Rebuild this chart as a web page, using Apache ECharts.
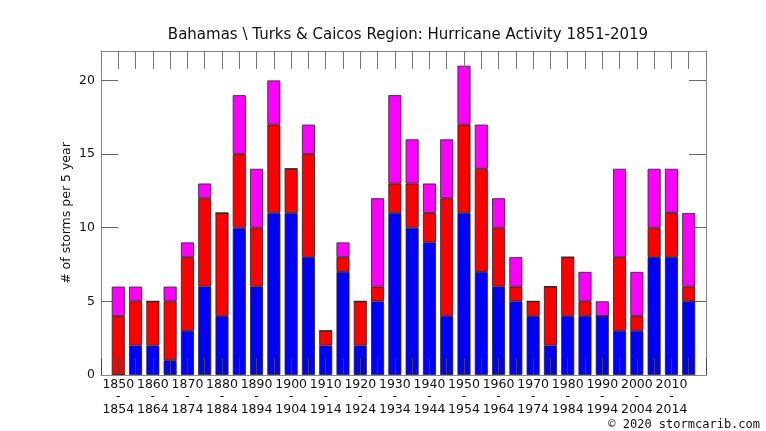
<!doctype html>
<html lang="en">
<head>
    <meta charset="UTF-8">
    <title>Bahamas \ Turks &amp; Caicos Region: Hurricane Activity</title>
    <style>
        *{
            margin:0;
            padding:0;
        }
        html,body {
            width:766px;
            height:431px;
            background:#fff;
        }
        #main{
            width:766px;
            height:431px;
        }
    </style>
</head>
<body>

<div id="main"></div>
<script src="https://cdn.jsdelivr.net/npm/echarts@6/dist/echarts.min.js"></script>
<script>

    // first year of each 5 year period
    var periodStart = [1850, 1855, 1860, 1865, 1870, 1875, 1880, 1885, 1890, 1895,
        1900, 1905, 1910, 1915, 1920, 1925, 1930, 1935, 1940, 1945,
        1950, 1955, 1960, 1965, 1970, 1975, 1980, 1985, 1990, 1995,
        2000, 2005, 2010, 2015];

    // stacked segments, bottom to top
    var blueCounts = [0, 2, 2, 1, 3, 6, 4, 10, 6, 11, 11, 8, 2, 7, 2, 5, 11, 10, 9, 4,
        11, 7, 6, 5, 4, 2, 4, 4, 4, 3, 3, 8, 8, 5];
    var redCounts = [4, 3, 3, 4, 5, 6, 7, 5, 4, 6, 3, 7, 1, 1, 3, 1, 2, 3, 2, 8,
        6, 7, 4, 1, 1, 4, 4, 1, 0, 5, 1, 2, 3, 1];
    var magentaCounts = [2, 1, 0, 1, 1, 1, 0, 4, 4, 3, 0, 2, 0, 1, 0, 6, 6, 3, 2, 4,
        4, 3, 2, 2, 0, 0, 0, 2, 1, 6, 3, 4, 3, 5];

    var yTicks = [0, 5, 10, 15, 20];

    var fontFamily = 'DejaVu Sans';
    var lineColor = '#888';

    // one empty 5-year slot on each side, like the original frame
    var categories = [String(periodStart[0] - 5)]
        .concat(periodStart.map(String))
        .concat([String(periodStart[periodStart.length - 1] + 5)]);

    function padded(values) {
        return [null].concat(values).concat([null]);
    }

    function periodLabel(value) {
        var v = +value;
        if (v < 1850 || v > 2010 || (v - 1850) % 10 !== 0) {
            return '';
        }
        return v + '\n-\n' + (v + 4);
    }

    function barSeries(name, values, color) {
        return {
            name: name,
            type: 'bar',
            stack: 'storms',
            barWidth: 13,
            data: padded(values),
            itemStyle: {
                color: color,
                borderColor: '#222',
                borderWidth: 0.8
            },
            emphasis: {disabled: true}
        };
    }

    var myChart = echarts.init(document.getElementById('main'));

    var xCommon = {
        type: 'category',
        data: categories,
        boundaryGap: false,
        z: 5,
        splitLine: {show: false},
        axisLine: {show: true, onZero: false, lineStyle: {color: lineColor, width: 1}},
        axisTick: {show: true, inside: true, interval: 0, length: 17, lineStyle: {color: '#444', width: 1}}
    };

    var yCommon = {
        type: 'value',
        min: 0,
        max: 22,
        interval: 5,
        splitLine: {show: false},
        axisLine: {show: true, onZero: false, lineStyle: {color: lineColor, width: 1}},
        axisTick: {show: true, inside: true, length: 17, lineStyle: {color: '#666', width: 1}}
    };

    myChart.setOption({
        animation: false,
        backgroundColor: '#fff',
        title: {
            text: 'Bahamas \\ Turks & Caicos Region: Hurricane Activity 1851-2019',
            left: 403,
            textAlign: 'center',
            top: 23,
            textStyle: {
                fontFamily: fontFamily,
                fontSize: 15,
                fontWeight: 'normal',
                color: '#111'
            }
        },
        grid: {
            left: 101,
            right: 60,
            top: 51,
            bottom: 56
        },
        xAxis: [
            Object.assign({}, xCommon, {
                position: 'bottom',
                axisLabel: {
                    show: true,
                    interval: 0,
                    margin: 3,
                    fontFamily: fontFamily,
                    fontSize: 12.5,
                    lineHeight: 12.5,
                    color: '#111',
                    formatter: periodLabel
                }
            }),
            Object.assign({}, xCommon, {
                position: 'top',
                axisLabel: {show: false},
                axisTick: {show: true, inside: true, interval: 0, length: 18, lineStyle: {color: '#777', width: 1}}
            })
        ],
        yAxis: [
            Object.assign({}, yCommon, {
                position: 'left',
                name: '# of storms per 5 year',
                nameLocation: 'middle',
                nameGap: 28,
                nameMoveOverlap: false,
                nameTextStyle: {
                    fontFamily: fontFamily,
                    fontSize: 12.5,
                    color: '#111'
                },
                axisLabel: {
                    margin: 6,
                    fontFamily: fontFamily,
                    fontSize: 12.5,
                    color: '#111',
                    showMaxLabel: false,
                    formatter: function (v) {
                        return yTicks.indexOf(v) >= 0 ? String(v) : '';
                    }
                }
            }),
            Object.assign({}, yCommon, {
                position: 'right',
                axisLabel: {show: false}
            })
        ],
        graphic: [{
            type: 'text',
            right: 6,
            top: 419,
            style: {
                text: '\u00a9 2020 stormcarib.com',
                fontFamily: 'DejaVu Sans Mono',
                fontSize: 12,
                fill: '#111'
            }
        }],
        series: [
            barSeries('blue', blueCounts, '#0000ff'),
            barSeries('red', redCounts, '#ff0000'),
            barSeries('magenta', magentaCounts, '#ff00ff')
        ]
    });

</script>
</body>
</html>
